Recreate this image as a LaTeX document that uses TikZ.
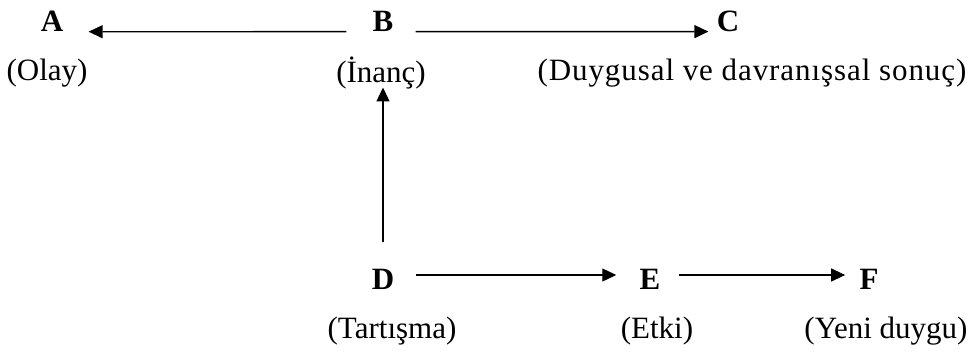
\documentclass[tikz,border=0pt]{standalone}
\usepackage{fontspec}
\setmainfont{Liberation Serif}
\newfontfamily\genis[LetterSpace=3]{Liberation Serif}
\usetikzlibrary{arrows.meta}

\begin{document}
\begin{tikzpicture}[x=5pt, y=-5pt, font=\fontsize{15.5}{18}\selectfont,
    every node/.style={inner sep=0pt},
    harf/.style={font=\fontsize{15.5}{18}\selectfont\bfseries},
    ok/.style={-{Triangle[length=7pt,width=6.5pt]}, line width=0.65pt}]

\useasboundingbox (0,0) rectangle (96.8,35.2);

\node[harf] (A) at (5.2,2.15) {A};
\node[harf] (B) at (38.3,2.15) {B};
\node[harf] (C) at (72.8,2.15) {C};

\node (olay) at (4.7,7.3) {(Olay)};
\node (inanc) at (38.1,7.3) {(İnanç)};
\node (sonuc) at (75.2,7.3) {\genis (Duygusal ve davranışsal sonuç)};

\node[harf] (D) at (38.3,27.9) {D};
\node[harf] (E) at (65.0,27.9) {E};
\node[harf] (F) at (86.9,27.9) {F};

\node (tartisma) at (39.2,33.1) {(Tartışma)};
\node (etki) at (65.7,33.1) {(Etki)};
\node (yeni) at (88.6,33.1) {(Yeni duygu)};

\draw[ok, shorten <=13pt, shorten >=12.5pt] (B.base west) -- (A.base east);
\draw[ok, shorten <=11pt, shorten >=4pt] (B.base east) -- (C.base west);
\draw[ok, shorten <=13pt, shorten >=-1pt] (D.north) -- (D.north |- inanc.south);
\draw[ok, shorten <=10.5pt, shorten >=11.5pt] ([yshift=2pt]D.east) -- ([yshift=2pt]E.west);
\draw[ok, shorten <=9pt, shorten >=7pt] ([yshift=2pt]E.east) -- ([yshift=2pt]F.west);

\end{tikzpicture}
\end{document}
